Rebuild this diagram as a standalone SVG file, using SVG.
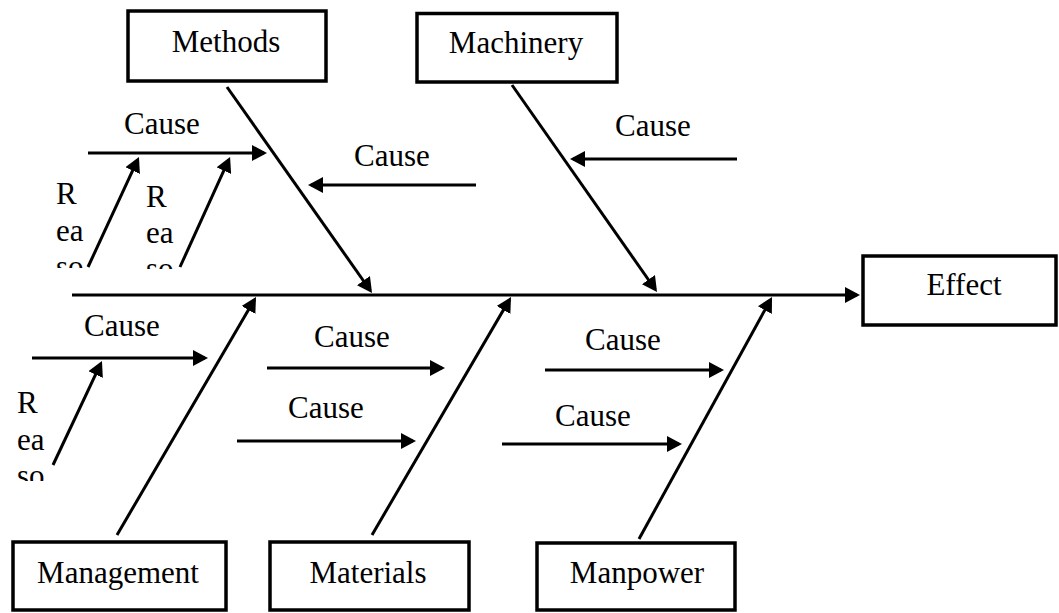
<svg xmlns="http://www.w3.org/2000/svg" width="1059" height="613" viewBox="0 0 1059 613">
<style>
.box{fill:#fff;stroke:#000;stroke-width:3.5}
.lbl{font-family:"Liberation Serif","Times New Roman",serif;font-size:31px;fill:#000}
.mid{text-anchor:middle}
.ln{stroke:#000;stroke-width:3;fill:none}
.arr{marker-end:url(#ah)}
</style>
<defs>
<marker id="ah" markerUnits="userSpaceOnUse" markerWidth="15" markerHeight="16" refX="12" refY="8" orient="auto" viewBox="0 0 15 16">
<path d="M0,0 L15,8 L0,16 z" fill="#000"/>
</marker>
<clipPath id="clipA"><rect x="0" y="0" width="1059" height="268"/></clipPath>
<clipPath id="clipB"><rect x="0" y="0" width="1059" height="269"/></clipPath>
<clipPath id="clipC"><rect x="0" y="300" width="1059" height="181"/></clipPath>
</defs>
<rect width="1059" height="613" fill="#fff"/>
<g id="connectors">
<line class="ln arr" x1="72" y1="295" x2="857" y2="295"/>
<line class="ln arr" x1="227" y1="87" x2="370.3" y2="290.5"/>
<line class="ln arr" x1="512" y1="85" x2="655.3" y2="289.5"/>
<line class="ln arr" x1="117" y1="535" x2="254.5" y2="299.6"/>
<line class="ln arr" x1="372" y1="535" x2="509.5" y2="299.6"/>
<line class="ln arr" x1="639" y1="539" x2="770.6" y2="299.6"/>
<line class="ln arr" x1="88" y1="153" x2="264" y2="153"/>
<line class="ln arr" x1="476" y1="185" x2="311" y2="185"/>
<line class="ln arr" x1="737" y1="159" x2="573" y2="159"/>
<line class="ln arr" x1="32" y1="358" x2="205" y2="358"/>
<line class="ln arr" x1="267" y1="368" x2="442" y2="368"/>
<line class="ln arr" x1="237" y1="441" x2="413" y2="441"/>
<line class="ln arr" x1="545" y1="370" x2="721" y2="370"/>
<line class="ln arr" x1="502" y1="444" x2="679" y2="444"/>
<line class="ln arr" x1="88" y1="267" x2="137.7" y2="159.7"/>
<line class="ln arr" x1="180" y1="267" x2="228.8" y2="159.7"/>
<line class="ln arr" x1="53" y1="465" x2="100.7" y2="363.7"/>
</g>
<g id="methods"><rect class="box" x="128" y="11" width="198" height="70"/><text class="lbl mid" x="226" y="52">Methods</text></g>
<g id="machinery"><rect class="box" x="417" y="13.5" width="200" height="68.5"/><text class="lbl mid" x="516" y="53">Machinery</text></g>
<g id="effect"><rect class="box" x="863" y="256" width="193" height="69"/><text class="lbl mid" x="964" y="295">Effect</text></g>
<g id="management"><rect class="box" x="13" y="542" width="213" height="68"/><text class="lbl mid" x="118" y="583">Management</text></g>
<g id="materials"><rect class="box" x="270" y="542" width="199" height="68"/><text class="lbl mid" x="368" y="583">Materials</text></g>
<g id="manpower"><rect class="box" x="537" y="543" width="198" height="67"/><text class="lbl mid" x="637" y="583">Manpower</text></g>
<g id="cause-labels">
<text class="lbl mid" x="162" y="134">Cause</text>
<text class="lbl mid" x="392" y="166">Cause</text>
<text class="lbl mid" x="653" y="136">Cause</text>
<text class="lbl mid" x="122" y="336">Cause</text>
<text class="lbl mid" x="352" y="347">Cause</text>
<text class="lbl mid" x="326" y="418">Cause</text>
<text class="lbl mid" x="623" y="350">Cause</text>
<text class="lbl mid" x="593" y="426">Cause</text>
</g>
<g id="reason1" clip-path="url(#clipA)"><text class="lbl" x="56" y="204">R</text><text class="lbl" x="56" y="241">ea</text><text class="lbl" x="56" y="277">so</text></g>
<g id="reason2" clip-path="url(#clipB)"><text class="lbl" x="146" y="207">R</text><text class="lbl" x="146" y="243">ea</text><text class="lbl" x="146" y="279">so</text></g>
<g id="reason3" clip-path="url(#clipC)"><text class="lbl" x="17" y="413">R</text><text class="lbl" x="17" y="450">ea</text><text class="lbl" x="17" y="486">so</text></g>
</svg>
